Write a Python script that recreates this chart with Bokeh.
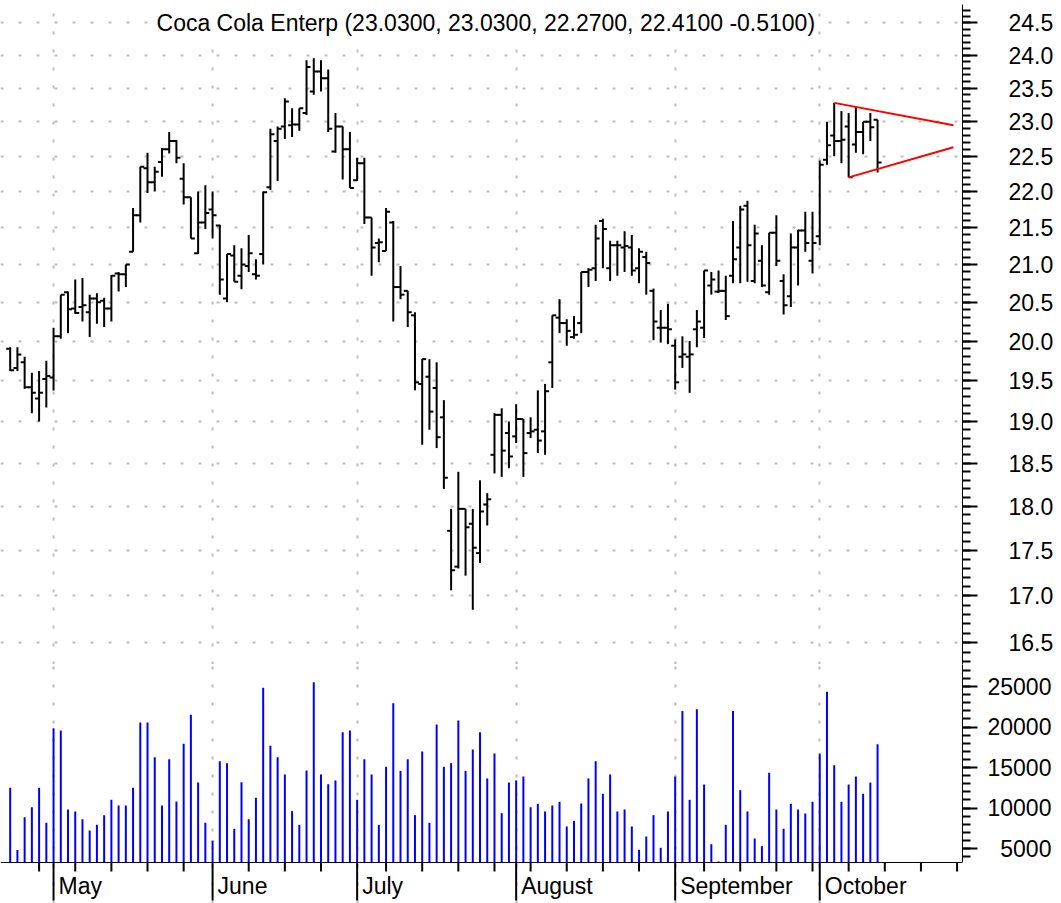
from bokeh.plotting import figure
from bokeh.models import Range1d, FixedTicker, PrintfTickFormatter, Label, Span, ColumnDataSource
from bokeh.core.properties import value
from bokeh.layouts import column
from bokeh.embed import file_html
from bokeh.resources import INLINE

# ---------------- data ----------------
opens = [19.90, 19.66, 19.73, 19.42, 19.28, 19.52, 19.54, 20.06, 20.63, 20.42,
         20.44, 20.37, 20.55, 20.52, 20.42, 20.88, 20.87, 21.17, 21.67, 22.33,
         22.13, 22.42, 22.60, 22.72, 22.18, 21.92, 21.15, 21.57, 21.75, 21.53,
         20.55, 21.12, 20.85, 20.98, 20.87, 21.14, 22.06, 22.72, 22.93, 22.95,
         22.96, 23.13, 23.45, 23.75, 23.65, 22.57, 22.93, 22.60, 22.16, 22.40,
         21.64, 21.29, 21.18, 21.57, 20.70, 20.65, 20.33, 19.46, 19.55, 19.41,
         19.05, 17.72, 17.32, 17.97, 17.80, 17.47, 18.02, 18.60, 19.08, 18.86,
         18.82, 19.03, 18.86, 18.90, 18.88, 19.73, 20.30, 20.23, 20.05, 20.23,
         20.90, 20.95, 21.59, 20.95, 21.26, 21.23, 21.23, 20.95, 21.10, 20.65,
         20.17, 20.17, 19.94, 19.80, 19.80, 20.15, 20.17, 20.72, 20.64, 20.65,
         20.85, 21.23, 21.80, 20.78, 21.05, 20.63, 21.43, 20.78, 20.58, 21.23,
         21.46, 21.05, 21.38, 22.45, 22.80, 22.72, 22.93, 22.67, 22.85, 23.00,
         23.03]
highs = [19.92, 19.92, 19.80, 19.60, 19.62, 19.75, 20.17, 20.60, 20.64, 20.80,
         20.82, 20.60, 20.62, 20.56, 20.86, 20.90, 21.00, 21.77, 22.35, 22.55,
         22.35, 22.62, 22.85, 22.73, 22.40, 21.92, 22.00, 22.09, 22.00, 21.54,
         21.14, 21.26, 21.22, 21.40, 21.07, 22.00, 22.90, 22.93, 23.35, 23.20,
         23.20, 23.92, 23.95, 23.92, 23.78, 23.13, 22.93, 22.85, 22.48, 22.48,
         21.64, 21.35, 21.77, 21.59, 20.98, 20.65, 20.37, 19.77, 19.77, 19.73,
         19.26, 17.97, 18.40, 17.97, 17.97, 18.30, 18.15, 19.10, 19.16, 19.00,
         19.21, 19.03, 19.05, 19.38, 19.46, 20.33, 20.54, 20.28, 20.32, 20.90,
         20.95, 21.54, 21.62, 21.32, 21.32, 21.45, 21.40, 21.22, 21.17, 20.68,
         20.40, 20.48, 20.02, 20.06, 20.00, 20.40, 20.92, 20.90, 20.92, 20.85,
         21.59, 21.80, 21.87, 21.54, 21.26, 21.43, 21.67, 20.87, 21.42, 21.47,
         21.72, 21.72, 22.44, 23.00, 23.28, 23.16, 23.13, 23.22, 23.00, 23.13,
         23.03]
lows = [19.62, 19.62, 19.40, 19.10, 19.00, 19.17, 19.38, 20.03, 20.10, 20.35,
        20.25, 20.05, 20.22, 20.18, 20.25, 20.64, 20.70, 21.17, 21.57, 21.98,
        22.00, 22.21, 22.54, 22.40, 21.82, 21.35, 21.14, 21.48, 21.35, 20.60,
        20.50, 20.77, 20.67, 20.90, 20.80, 21.00, 22.02, 22.15, 22.75, 22.78,
        22.87, 23.10, 23.40, 23.45, 22.85, 22.55, 22.17, 22.05, 22.15, 21.55,
        20.85, 21.03, 21.18, 20.25, 20.54, 20.18, 19.38, 18.72, 18.90, 18.68,
        18.20, 17.06, 17.30, 17.22, 16.85, 17.36, 17.78, 18.38, 18.34, 18.44,
        18.74, 18.34, 18.80, 18.62, 18.60, 19.41, 20.10, 19.94, 20.03, 20.10,
        20.70, 20.78, 20.95, 20.78, 20.85, 20.90, 20.85, 20.75, 20.60, 20.01,
        19.98, 19.96, 19.39, 19.66, 19.35, 19.92, 20.04, 20.60, 20.62, 20.27,
        20.75, 20.75, 20.77, 20.75, 20.70, 20.60, 20.98, 20.34, 20.44, 20.72,
        21.17, 20.88, 21.26, 22.38, 22.50, 22.40, 22.20, 22.55, 22.53, 22.72,
        22.27]
closes = [19.63, 19.83, 19.42, 19.35, 19.35, 19.56, 20.06, 20.60, 20.41, 20.36,
          20.46, 20.55, 20.50, 20.42, 20.85, 20.87, 21.00, 21.67, 22.35, 22.13,
          22.28, 22.60, 22.72, 22.48, 21.92, 21.35, 21.57, 21.70, 21.67, 20.80,
          21.14, 20.77, 21.00, 21.15, 20.85, 21.99, 22.82, 22.90, 23.30, 22.96,
          23.20, 23.82, 23.75, 23.65, 22.90, 22.93, 22.60, 22.05, 22.40, 21.64,
          21.23, 21.30, 21.72, 20.70, 20.60, 20.37, 19.48, 19.77, 19.12, 18.81,
          18.33, 17.28, 17.97, 17.76, 17.53, 17.94, 18.08, 19.08, 18.65, 18.58,
          19.03, 18.62, 18.88, 18.77, 19.37, 20.33, 20.23, 20.13, 20.08, 20.90,
          20.93, 21.35, 21.48, 21.26, 21.26, 21.25, 20.92, 21.17, 21.02, 20.25,
          20.17, 20.15, 19.48, 19.83, 19.83, 20.25, 20.92, 20.80, 20.65, 20.32,
          21.07, 21.75, 21.26, 21.42, 20.72, 21.43, 21.05, 20.46, 21.23, 21.46,
          21.29, 21.29, 22.38, 22.66, 22.72, 22.74, 22.20, 22.85, 23.00, 22.92,
          22.41]
volumes = [12500, 4800, 8870, 10100, 12500, 8170, 19860, 19570, 9820, 9570,
           8620, 7220, 7920, 9120, 11010, 10310, 10310, 12500, 20560, 20560,
           16280, 10310, 16030, 10800, 17930, 21510, 13150, 8170, 5990, 15780,
           15540, 7430, 13190, 8620, 11260, 24850, 17680, 16280, 14140, 9610,
           7920, 14630, 25540, 14140, 12940, 13400, 19360, 19570, 11010, 16030,
           14140, 7920, 15090, 22940, 14590, 16030, 9120, 16980, 8170, 20310,
           15090, 15540, 20810, 14590, 17230, 19360, 13650, 16730, 9360, 13150,
           13400, 13890, 10100, 10520, 9570, 10310, 10770, 7720, 8420, 10560,
           13650, 15780, 11750, 14140, 9570, 9820, 7720, 4840, 6480, 9120,
           5090, 9570, 13890, 21960, 11010, 22200, 12900, 5530, 3400, 7920,
           21960, 12200, 9570, 6240, 5290, 14350, 9820, 7430, 10520, 9820,
           9320, 10770, 16730, 24350, 15290, 10770, 12900, 13890, 11750, 13150,
           17880]

month_names = ["May", "June", "July", "August", "September", "October"]
month_start = [7, 29, 49, 71, 93, 113]          # bar index of first trading day
week_ticks = [5, 10, 15, 20, 25, 34, 39, 44, 53, 58, 63, 68, 73, 78, 83, 88,
              97, 102, 107, 112, 117, 122, 127, 132]
price_ticks = [16.5, 17.0, 17.5, 18.0, 18.5, 19.0, 19.5, 20.0, 20.5,
               21.0, 21.5, 22.0, 22.5, 23.0, 23.5, 24.0, 24.5]
vol_ticks = [5000, 10000, 15000, 20000, 25000]
title_text = "Coca Cola Enterp (23.0300, 23.0300, 22.2700, 22.4100 -0.5100)"

# triangle (red trend lines)
tri_x0 = [115, 117]
tri_y0 = [23.28, 22.20]
tri_x1 = [131.5, 131.5]
tri_y1 = [22.95, 22.63]

# ---------------- figure setup ----------------
FONT = "Liberation Sans"
GRID_COLOR = "#bcbcbc"
X0, X1 = -0.34, 132.75
P_LO, P_HI = 16.272, 24.787
V_LO, V_HI = 3272.0, 27716.0
VOL_PANEL_PX = 198.0            # height of volume panel above the time axis
AXIS_PX = 41.0                  # height of the time-axis strip below it
VPX = (V_HI - V_LO) / VOL_PANEL_PX   # volume units per pixel

n = len(closes)
idx = list(range(1, n + 1))
tick = 0.55
src = ColumnDataSource(dict(
    x=idx, o=opens, h=highs, l=lows, c=closes,
    xl=[i - tick for i in idx], xr=[i + tick for i in idx],
))

p = figure(width=1061, height=664, x_range=Range1d(X0, X1),
           y_range=Range1d(P_LO, P_HI), y_axis_type="log",
           y_axis_location="right", x_axis_location=None,
           output_backend="svg", toolbar_location=None,
           min_border_left=0, min_border_right=99,
           min_border_top=4, min_border_bottom=0)
p.outline_line_color = None
p.background_fill_color = "white"

ya = p.yaxis[0]
ya.ticker = FixedTicker(ticks=price_ticks,
                        minor_ticks=[round(16.3 + 0.1 * k, 1) for k in range(85)])
ya.formatter = PrintfTickFormatter(format="%.1f")
ya.major_tick_in = 0
ya.major_tick_out = 15
ya.minor_tick_in = 0
ya.minor_tick_out = 8
ya.major_tick_line_width = 2
ya.minor_tick_line_width = 2
ya.axis_line_width = 1
ya.axis_line_color = "black"
ya.major_label_standoff = 31
ya.major_label_text_font = FONT
ya.major_label_text_font_size = "23px"
ya.major_label_text_color = "black"

p.ygrid.grid_line_color = GRID_COLOR
p.ygrid.grid_line_dash = "3 15"
p.ygrid.grid_line_width = 2
p.xgrid.ticker = FixedTicker(ticks=month_start)
p.xgrid.grid_line_color = GRID_COLOR
p.xgrid.grid_line_dash = "3 15"
p.xgrid.grid_line_width = 2

p.segment(x0="x", y0="l", x1="x", y1="h", source=src, line_color="black", line_width=2)
p.segment(x0="xl", y0="o", x1="x", y1="o", source=src, line_color="black", line_width=2)
p.segment(x0="x", y0="c", x1="xr", y1="c", source=src, line_color="black", line_width=2)
p.segment(x0=tri_x0, y0=tri_y0, x1=tri_x1, y1=tri_y1, line_color="#ff0000", line_width=2)

p.add_layout(Label(x=66.8, y=24.5, text=title_text, text_align="center",
                   text_baseline="middle", text_font=FONT, text_font_size="23px",
                   text_color="black", background_fill_color="white"))

# ---------------- volume panel (with the time axis strip below it) ----------------
Y_BOTTOM = V_LO - AXIS_PX * VPX
v = figure(width=1061, height=int(VOL_PANEL_PX + AXIS_PX), x_range=p.x_range,
           y_range=Range1d(Y_BOTTOM, V_HI), y_axis_location="right",
           x_axis_location=None,
           output_backend="svg", toolbar_location=None,
           min_border_left=0, min_border_right=99,
           min_border_top=0, min_border_bottom=0)
v.outline_line_color = None
v.segment(x0=idx, y0=V_LO, x1=idx, y1=volumes, line_color="#0000ff", line_width=2)

va = v.yaxis[0]
va.bounds = (V_LO, V_HI)
va.ticker = FixedTicker(ticks=vol_ticks, minor_ticks=[1000 * k for k in range(4, 28)])
va.major_label_overrides = {5000: "\u20075000"}
va.major_tick_in = 0
va.major_tick_out = 15
va.minor_tick_in = 0
va.minor_tick_out = 8
va.major_tick_line_width = 2
va.minor_tick_line_width = 2
va.axis_line_width = 1
va.axis_line_color = "black"
va.major_label_standoff = 10
va.major_label_text_font = FONT
va.major_label_text_font_size = "23px"
va.major_label_text_color = "black"

v.ygrid.grid_line_color = None
v.xgrid.ticker = FixedTicker(ticks=month_start)
v.xgrid.grid_line_color = GRID_COLOR
v.xgrid.grid_line_dash = "3 15"
v.xgrid.grid_line_width = 2

# time axis: base line, month ticks (long), week ticks (short), month names
v.add_layout(Span(location=V_LO, dimension="width", line_color="black", line_width=1))
v.segment(x0=month_start, y0=V_LO, x1=month_start, y1=V_LO - 38 * VPX,
          line_color="black", line_width=2)
v.segment(x0=week_ticks, y0=V_LO, x1=week_ticks, y1=V_LO - 9 * VPX,
          line_color="black", line_width=2)
v.text(x=month_start, y=[V_LO - 23 * VPX] * len(month_start), text=month_names,
       x_offset=5, text_align="left", text_baseline="middle",
       text_font=value(FONT), text_font_size=value("23px"), text_color="black")

layout = column(p, v, spacing=0)
open("out.html", "w").write(file_html(layout, INLINE))
